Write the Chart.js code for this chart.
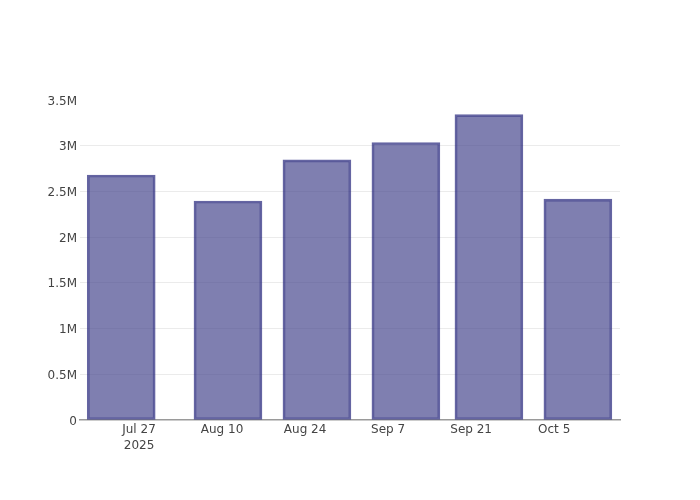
<!DOCTYPE html>
<html>
<head>
<meta charset="utf-8">
<script src="https://cdn.jsdelivr.net/npm/chart.js@4"></script>
<style>
  html, body { margin: 0; padding: 0; background: #fff; }
  #wrap { width: 700px; height: 500px; }
</style>
</head>
<body>
<div id="wrap"><canvas id="grafico"></canvas></div>
<script>
// dados
const datas = ['2025-07-24', '2025-08-11', '2025-08-26', '2025-09-10', '2025-09-24', '2025-10-09'];
const valores = [2680000, 2395000, 2845000, 3035000, 3340000, 2415000];
const ticksDatas = ['2025-07-27', '2025-08-10', '2025-08-24', '2025-09-07', '2025-09-21', '2025-10-05'];
const ticksY = [0, 500000, 1000000, 1500000, 2000000, 2500000, 3000000, 3500000];
const meses = ['Jan', 'Feb', 'Mar', 'Apr', 'May', 'Jun', 'Jul', 'Aug', 'Sep', 'Oct', 'Nov', 'Dec'];

// dias desde a origem, p/ usar escala linear no eixo x
const DIA = 86400000;
function dia(s) {
  const p = s.split('-');
  return Date.UTC(+p[0], +p[1] - 1, +p[2]) / DIA;
}
function rotulo(d) {
  const dt = new Date(d * DIA);
  return meses[dt.getUTCMonth()] + ' ' + dt.getUTCDate();
}
function rotuloY(v) {
  if (v === 0) return '0';
  return (v / 1000000) + 'M';
}

const pontos = datas.map((d, i) => ({ x: dia(d), y: valores[i] }));
const tickValores = ticksDatas.map(dia);
const minX = dia('2025-07-27') - 9.95;
const maxX = dia('2025-07-27') + 81.1;

const ctx = document.getElementById('grafico').getContext('2d');
const myChart = new Chart(ctx, {
  type: 'bar',
  data: {
    datasets: [
      {
        data: pontos,
        backgroundColor: 'rgba(72,72,142,0.7)',
        borderColor: 'rgba(28,28,118,0.68)',
        borderWidth: 2,
        borderSkipped: false,
        barThickness: 68,
      },
    ],
  },
  options: {
    responsive: true,
    maintainAspectRatio: false,
    animation: false,
    layout: { padding: { left: 0, right: 80, top: 100, bottom: 0 } },
    plugins: {
      legend: { display: false },
      tooltip: { enabled: false },
    },
    scales: {
      x: {
        type: 'linear',
        offset: false,
        min: minX,
        max: maxX,
        afterFit: (scale) => { scale.height = 80; },
        afterBuildTicks: (scale) => {
          scale.ticks = tickValores.map((v) => ({ value: v }));
        },
        grid: { display: false, drawTicks: false, offset: false },
        border: { display: true, color: '#9a9a9a', width: 1.5 },
        ticks: {
          padding: 2,
          color: '#444',
          maxRotation: 0,
          autoSkip: false,
          font: { family: 'DejaVu Sans', size: 12, lineHeight: 1.3 },
          callback: (v, i) => (i === 0 ? [rotulo(v), '2025'] : rotulo(v)),
        },
      },
      y: {
        min: 0,
        max: 3500000,
        afterFit: (scale) => { scale.width = 80; },
        afterBuildTicks: (scale) => {
          scale.ticks = ticksY.map((v) => ({ value: v }));
        },
        grid: {
          drawTicks: false,
          color: (c) => (c.tick && (c.tick.value === 0 || c.tick.value === 3500000) ? 'rgba(0,0,0,0)' : '#ebebeb'),
          lineWidth: 1,
        },
        border: { display: false },
        ticks: {
          padding: 3,
          labelOffset: 1.5,
          color: '#444',
          font: { family: 'DejaVu Sans', size: 12 },
          callback: (v) => rotuloY(v),
        },
      },
    },
  },
});
</script>
</body>
</html>
